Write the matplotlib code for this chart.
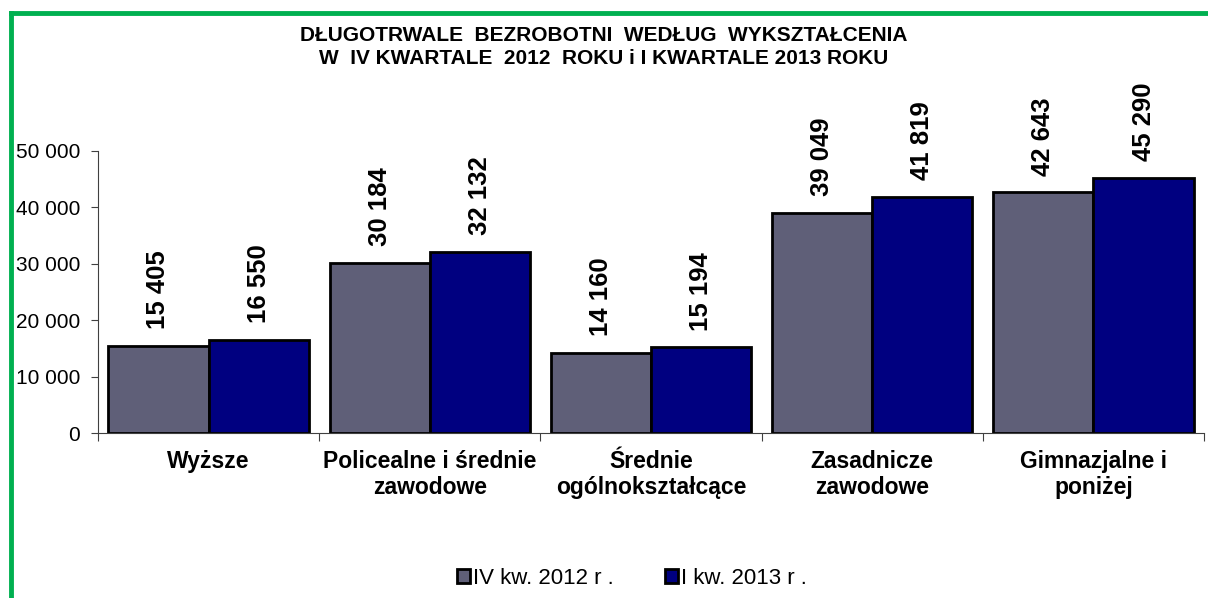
import matplotlib.pyplot as plt
import numpy as np
from matplotlib.lines import Line2D

plt.rcParams['font.family'] = ['Liberation Sans', 'DejaVu Sans']

categories = ['Wyższe', 'Policealne i średnie\nzawodowe', 'Średnie\nogólnokształcące',
              'Zasadnicze\nzawodowe', 'Gimnazjalne i\nponiżej']
q4_2012 = [15405, 30184, 14160, 39049, 42643]
q1_2013 = [16550, 32132, 15194, 41819, 45290]
series_names = ['IV kw. 2012 r .', 'I kw. 2013 r .']
yticks = [0, 10000, 20000, 30000, 40000, 50000]


def fmt(v):
    return f'{v:,}'.replace(',', ' ')


fig = plt.figure(figsize=(12.08, 5.98), dpi=100)
ax = fig.add_axes([0.0811, 0.2759, 0.9156, 0.4716])

x = np.arange(len(categories))
w = 0.453
b1 = ax.bar(x - w / 2, q4_2012, w, color='#5f5f78', edgecolor='black', linewidth=2, label=series_names[0])
b2 = ax.bar(x + w / 2, q1_2013, w, color='#000080', edgecolor='black', linewidth=2, label=series_names[1])

for bars in (b1, b2):
    for r in bars:
        ax.annotate(fmt(int(r.get_height())), (r.get_x() + r.get_width() / 2, r.get_height()),
                    xytext=(0, 12), textcoords='offset points', rotation=90,
                    ha='center', va='bottom', fontsize=18.5, fontweight='bold')

ax.set_xlim(-0.5, len(categories) - 0.5)
ax.set_ylim(0, 50000)
ax.set_yticks(yticks)
ax.set_yticklabels([fmt(v) for v in yticks], fontsize=15)
ax.set_xticks(np.arange(-0.5, len(categories)), minor=False)
ax.set_xticklabels([])
ax.set_xticks(x, minor=True)
ax.set_xticklabels(categories, minor=True, fontsize=16.5, fontweight='bold')
ax.tick_params(axis='x', which='minor', length=0, pad=12)
ax.tick_params(axis='x', which='major', length=6, direction='out', color='#404040')
ax.tick_params(axis='y', length=5, direction='out', color='#404040', pad=8)
for s in ['top', 'right']:
    ax.spines[s].set_visible(False)
for s in ['left', 'bottom']:
    ax.spines[s].set_color('#404040')

fig.text(0.5, 0.94, 'DŁUGOTRWALE  BEZROBOTNI  WEDŁUG  WYKSZTAŁCENIA', ha='center', va='center',
         fontsize=15, fontweight='bold')
fig.text(0.5, 0.903, 'W  IV KWARTALE  2012  ROKU i I KWARTALE 2013 ROKU', ha='center', va='center',
         fontsize=15, fontweight='bold')

fig.legend(loc='center', bbox_to_anchor=(0.523, 0.033), ncol=2, frameon=False, fontsize=16,
           handlelength=0.58, handleheight=0.58, handletextpad=0.15, columnspacing=2.3,
           borderpad=0.2)

# green frame (top and left edges)
fig.add_artist(Line2D([0.0087, 1.0], [0.9775, 0.9775], color='#00b050', linewidth=3.5,
                      transform=fig.transFigure))
fig.add_artist(Line2D([0.0087, 0.0087], [0.0, 0.9775], color='#00b050', linewidth=3.5,
                      transform=fig.transFigure))

fig.savefig('out.png', dpi=100)
